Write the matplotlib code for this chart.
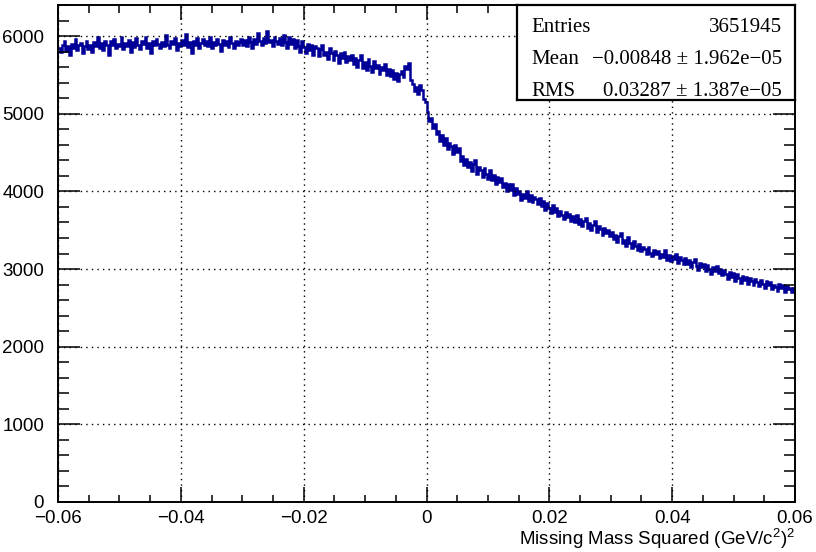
import numpy as np
import matplotlib
matplotlib.use("Agg")
import matplotlib.pyplot as plt
from matplotlib.ticker import MultipleLocator

# histogram range and binning
x_min, x_max = -0.06, 0.06
n_bins = 400
y_max = 6400

# bin contents, 20 bins (0.006 wide) per row
counts = [
    5840, 5790, 5880, 5930, 5810, 5870, 5760, 5900, 5850, 5960, 5820, 5880, 5910, 5780, 5870, 5940, 5830, 5890, 5800, 5920,
    5870, 5990, 5850, 5910, 5820, 5940, 5880, 5760, 5930, 5890, 5960, 5840, 5900, 5870, 5990, 5830, 5910, 5870, 5950, 5800,
    5920, 5860, 5970, 5880, 5830, 5940, 5900, 5990, 5850, 5910, 5780, 5930, 5880, 5960, 5900, 5840, 5920, 5870, 6010, 5890,
    5850, 5940, 5900, 5980, 5820, 5910, 5870, 5950, 5890, 6030, 5860, 5920, 5780, 5940, 5890, 5970, 5850, 5910, 5960, 5880,
    5930, 5870, 5990, 5840, 5920, 5880, 5960, 5900, 5810, 5950, 5890, 5930, 5860, 5990, 5910, 5850, 5940, 5880, 5920, 5960,
    5890, 5950, 5870, 5990, 5920, 5840, 5960, 5900, 6040, 5930, 5880, 5970, 5910, 6060, 5920, 5950, 5870, 5990, 5930, 5900,
    5970, 5880, 6010, 5920, 5850, 5990, 5900, 5960, 5840, 5950, 5870, 5800, 5930, 5860, 5780, 5900, 5820, 5880, 5760, 5870,
    5850, 5740, 5830, 5880, 5760, 5790, 5700, 5840, 5780, 5690, 5810, 5750, 5650, 5780, 5720, 5800, 5660, 5740, 5690, 5760,
    5640, 5720, 5600, 5690, 5750, 5590, 5660, 5560, 5700, 5620, 5540, 5680, 5590, 5630, 5510, 5600, 5560, 5640, 5500, 5580,
    5490, 5560, 5450, 5520, 5420, 5510, 5550, 5470, 5620, 5580, 5650, 5430, 5380, 5290, 5340, 5250, 5370, 5310, 5190, 5150,
    5020, 4900, 4950, 4820, 4870, 4740, 4780, 4650, 4720, 4600, 4690, 4540, 4620, 4580, 4480, 4600, 4510, 4560, 4390, 4450,
    4340, 4420, 4310, 4380, 4260, 4350, 4400, 4230, 4320, 4270, 4190, 4300, 4220, 4160, 4280, 4150, 4210, 4100, 4190, 4120,
    4170, 4050, 4110, 4000, 4090, 4020, 4100, 3950, 4040, 3960, 4010, 3890, 3970, 3920, 4000, 3880, 3950, 3860, 3930, 3900,
    3840, 3920, 3810, 3870, 3760, 3850, 3790, 3720, 3830, 3740, 3780, 3680, 3750, 3700, 3640, 3730, 3670, 3710, 3620, 3680,
    3610, 3690, 3580, 3640, 3550, 3620, 3660, 3530, 3590, 3500, 3570, 3620, 3480, 3550, 3510, 3440, 3530, 3470, 3500, 3420,
    3480, 3390, 3440, 3350, 3420, 3460, 3340, 3380, 3300, 3410, 3330, 3270, 3360, 3300, 3250, 3320, 3230, 3290, 3260, 3200,
    3280, 3210, 3170, 3250, 3190, 3230, 3140, 3200, 3160, 3240, 3120, 3180, 3100, 3170, 3130, 3190, 3080, 3150, 3110, 3060,
    3140, 3070, 3110, 3020, 3090, 3130, 3040, 2990, 3080, 3020, 3060, 2970, 3050, 3000, 2940, 3030, 2980, 3040, 2950, 3000,
    2920, 2990, 2940, 2870, 2960, 2900, 2950, 2850, 2930, 2880, 2820, 2910, 2860, 2900, 2810, 2880, 2840, 2790, 2870, 2830,
    2780, 2860, 2810, 2750, 2840, 2790, 2830, 2740, 2800, 2770, 2720, 2810, 2760, 2790, 2700, 2780, 2740, 2760, 2700, 2750,
]

# stats box entries
stat_names = ["Entries", "Mean", "RMS"]
stat_values = ["3651945", "\u22120.00848 \u00b1 1.962e\u221205", "0.03287 \u00b1 1.387e\u221205"]

x_title = "Missing Mass Squared (GeV/c$^{2}$)$^{2}$"

plt.rcParams["font.family"] = ["Liberation Sans", "DejaVu Sans"]
plt.rcParams["mathtext.default"] = "regular"

W, H = 816, 552
fig = plt.figure(figsize=(W / 100, H / 100), dpi=100)

# frame in pixels: left 58, right 795, top 5, bottom 502
ax = fig.add_axes([58 / W, (H - 502) / H, (795 - 58) / W, (502 - 5) / H])

edges = np.linspace(x_min, x_max, n_bins + 1)
ax.stairs(counts, edges, color="#000099", linewidth=1.8, baseline=None)

ax.set_xlim(x_min, x_max)
ax.set_ylim(0, y_max)

ax.xaxis.set_major_locator(MultipleLocator(0.02))
ax.xaxis.set_minor_locator(MultipleLocator(0.005))
ax.yaxis.set_major_locator(MultipleLocator(1000))
ax.yaxis.set_minor_locator(MultipleLocator(200))
ax.xaxis.set_major_formatter(plt.FuncFormatter(lambda v, p: f"{v:g}".replace("-", "\u2212") if abs(v) > 1e-9 else "0"))

ax.grid(True, which="major", color="black", linestyle=(0, (1, 3)), linewidth=1.0)

ax.tick_params(axis="x", which="major", direction="in", length=10.8, width=1.1,
               top=True, labelsize=13.5, pad=6)
ax.tick_params(axis="x", which="minor", direction="in", length=5.4, width=1.1, top=True)
ax.tick_params(axis="y", which="major", direction="in", length=15.8, width=1.1,
               right=True, labelsize=13.5, pad=10)
ax.tick_params(axis="y", which="minor", direction="in", length=7.9, width=1.1, right=True)
for s in ax.spines.values():
    s.set_linewidth(1.4)

ax.set_xlabel(x_title, loc="right", fontsize=13.5, labelpad=0)

# stats box sits on the top-right corner of the frame
box = fig.add_axes([517 / W, (H - 100) / H, (795 - 517) / W, (100 - 5) / H])
box.set_facecolor("white")
box.set_xticks([])
box.set_yticks([])
for s in box.spines.values():
    s.set_linewidth(1.6)

row_y = [27, 59, 92]
for name, val, y in zip(stat_names, stat_values, row_y):
    fig.text(531 / W, (H - y) / H, name, family="Liberation Serif", fontsize=15,
             ha="left", va="center")
    fig.text(782 / W, (H - y) / H, val, family="Liberation Serif", fontsize=15,
             ha="right", va="center")

fig.savefig("out.png", dpi=100)
